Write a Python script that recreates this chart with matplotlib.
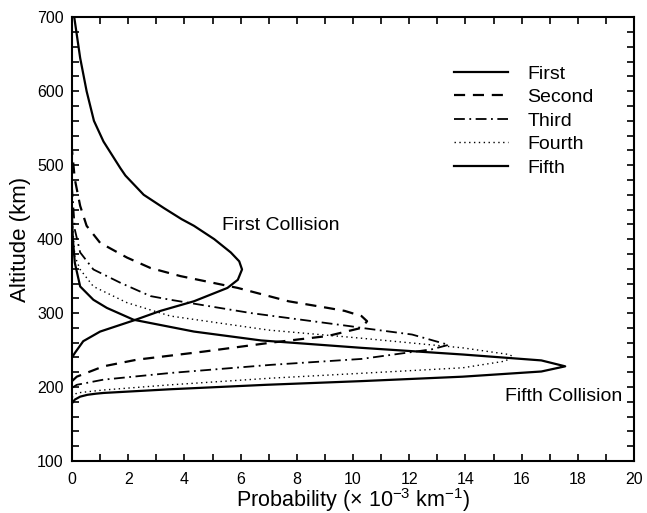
import matplotlib
matplotlib.use("Agg")
import matplotlib.pyplot as plt
from matplotlib.ticker import MultipleLocator

plt.rcParams['font.family'] = ['Liberation Sans', 'DejaVu Sans']
plt.rcParams['mathtext.fontset'] = 'custom'
plt.rcParams['mathtext.rm'] = 'Liberation Sans'
plt.rcParams['mathtext.it'] = 'Liberation Sans:italic'

# ---- data (probability x1e-3 per km, altitude km) ----
first_x = [0, 0.1, 0.4, 1.0, 2.19, 3.15, 4.34, 5.53, 5.9, 6.05, 5.95, 5.65, 5.06, 4.34, 3.9, 3.27, 2.55, 1.9, 1.72, 1.12, 0.78, 0.52, 0.29, 0.08]
first_alt = [240, 246, 262, 275, 290, 303, 316, 334, 345, 359, 370, 382, 400, 418, 427, 442, 460, 486, 496, 532, 560, 600, 645, 700]

second_x = [0, 0.17, 1.12, 2.31, 4.7, 7.08, 9.1, 10.3, 10.5, 10.3, 9.7, 9.1, 7.7, 5.9, 3.86, 2.79, 1.96, 1.0, 0.52, 0.29, 0.1, 0.0]
second_alt = [208, 214, 228, 237, 248, 260, 269, 280, 289, 296, 303, 307, 316, 334, 350, 361, 375, 395, 418, 445, 481, 520]

third_x = [0, 0.17, 1.12, 3.5, 7.08, 10.3, 12.8, 13.4, 12.1, 10.3, 9.95, 6.37, 3.5, 2.79, 1.72, 0.76, 0.29, 0.1, 0.0]
third_alt = [199, 203, 210, 219, 230, 238, 251, 257, 271, 280, 282, 300, 318, 323, 341, 359, 382, 413, 470]

fourth_x = [0, 0.17, 1.12, 3.5, 7.08, 10.5, 13.9, 15.4, 15.7, 15.55, 13.9, 10.3, 7.0, 3.5, 1.96, 0.76, 0.29, 0.1, 0.0]
fourth_alt = [186, 192, 196, 203, 212, 219, 226, 235, 241, 244, 253, 266, 277, 296, 314, 336, 359, 377, 430]

fifth_x = [0, 0.1, 0.29, 0.55, 0.85, 1.12, 3.5, 6.9, 10.3, 13.9, 16.7, 17.55, 16.7, 13.9, 10.3, 6.73, 4.34, 2.19, 1.24, 0.76, 0.29, 0.1, 0.03, 0.0]
fifth_alt = [178, 183, 187, 189.5, 191, 192, 197, 203, 208, 214, 221, 228, 236, 244, 253, 263, 275, 291, 307, 318, 336, 368, 400, 430]

labels = ["First", "Second", "Third", "Fourth", "Fifth"]

fig = plt.figure(figsize=(6.47, 5.13), dpi=100)
ax = fig.add_axes([0.1113, 0.1014, 0.8687, 0.8649])

ax.plot(first_x, first_alt, color='black', lw=1.6, ls='-', label=labels[0])
ax.plot(second_x, second_alt, color='black', lw=1.6, ls=(0, (5, 3.5)), label=labels[1])
ax.plot(third_x, third_alt, color='black', lw=1.3, ls=(0, (6, 2.5, 1, 2.5)), label=labels[2])
ax.plot(fourth_x, fourth_alt, color='black', lw=1.0, ls=(0, (1, 2.5)), label=labels[3])
ax.plot(fifth_x, fifth_alt, color='black', lw=1.6, ls='-', label=labels[4])

ax.set_xlim(0, 20)
ax.set_ylim(100, 700)
ax.xaxis.set_major_locator(MultipleLocator(2))
ax.xaxis.set_minor_locator(MultipleLocator(1))
ax.yaxis.set_major_locator(MultipleLocator(100))
ax.yaxis.set_minor_locator(MultipleLocator(20))
ax.tick_params(which='both', direction='in', top=True, right=True, length=5, width=1.2)
ax.tick_params(axis='x', which='major', labelsize=11.5, pad=8)
ax.tick_params(axis='y', which='major', labelsize=11.5, pad=6)
for s in ax.spines.values():
    s.set_linewidth(1.5)

ax.set_ylabel("Altitude (km)", fontsize=16, labelpad=4)
ax.set_xlabel("Probability (× 10$^{-3}$ km$^{-1}$)", fontsize=15.5)
ax.xaxis.set_label_coords(0.5, -0.104)
ax.xaxis.label.set_va('baseline')

ax.text(5.33, 419, "First Collision", fontsize=14, ha='left', va='center')
ax.text(15.4, 187, "Fifth Collision", fontsize=14, ha='left', va='center')

leg = ax.legend(loc='upper left', bbox_to_anchor=(0.679, 0.892), frameon=False,
                fontsize=14, handlelength=2.8, handletextpad=1.0,
                labelspacing=0.3, borderpad=0, borderaxespad=0)

fig.savefig("out.png", dpi=100)
